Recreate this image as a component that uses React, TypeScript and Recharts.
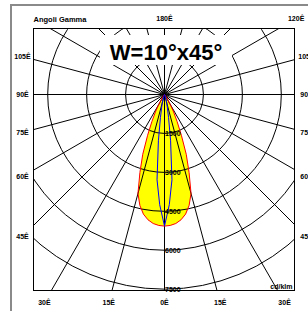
import { RadarChart, Radar, PolarGrid, PolarAngleAxis, PolarRadiusAxis } from "recharts";

const W = 308;
const H = 311;
const CX = 164.5;
const CY = 94.5;
const OUTER = 292;
const R_MAX = 11250; // cd/klm at OUTER, so 7500 sits on the bottom of the box
const START = -90; // gamma 0 points down, gamma grows clockwise
const FONT = "'Liberation Sans', Arial, sans-serif";

// one half of the (symmetric) curves, gamma in degrees
const STEP = 2.5;
const redCd = [5070, 5050, 4990, 4870, 4680, 4380, 3950, 3150, 2450, 1700, 1150, 760, 450, 260, 150, 90, 50, 25, 10];
const blueCd = [5070, 4250, 3300, 1800, 900, 500, 320, 180, 90, 40, 15];

const ringTicks = [1500, 3000, 4500, 6000, 7500];
const gridGammas = [0, 15, 30, 45, 60, 75, 90, 105, 120, 135, 150, 165, 180, 195, 210, 225, 240, 255, 270, 285, 300, 315, 330, 345];
// left side 0..105, top 180, right side 120..15
const labelGammas = [0, 15, 30, 45, 60, 75, 90, 105, 180, 240, 255, 270, 285, 300, 315, 330, 345];

const data = Array.from({ length: 360 / STEP }, (_, i) => {
  const g = i * STEP;
  const k = Math.round((g <= 180 ? g : 360 - g) / STEP);
  return { gamma: g, red: redCd[k] ?? 0, blue: blueCd[k] ?? 0 };
});

// plot box and label frame
const BOX = { x: 33, y: 28, w: 261, h: 262 };
const LBL = { side: 142, top: 76, bottom: 208 };

const angleTick = (p: any) => {
  const g = Number(p.payload?.value);
  if (!labelGammas.includes(g)) return <g />;
  const dx = p.x - CX;
  const dy = p.y - CY;
  const ts: number[] = [];
  if (Math.abs(dx) > 1e-6) ts.push(LBL.side / Math.abs(dx));
  if (dy < -1e-6) ts.push(LBL.top / -dy);
  if (dy > 1e-6) ts.push(LBL.bottom / dy);
  const t = Math.min(...ts);
  const shown = g <= 180 ? g : 360 - g;
  return (
    <text x={CX + dx * t} y={CY + dy * t + 2.5} textAnchor="middle" fontSize={7} fontWeight="bold" fontFamily={FONT} fill="#000">
      {shown}Ê
    </text>
  );
};

const ringTick = (p: any) => (
  <text x={p.x + 0.5} y={p.y + 2.5} textAnchor="start" fontSize={7} fontWeight="bold" fontFamily={FONT} fill="#000">
    {p.payload?.value}
  </text>
);

const chartProps = {
  width: W,
  height: H,
  data,
  cx: CX,
  cy: CY,
  innerRadius: 0,
  outerRadius: OUTER,
  startAngle: START,
  endAngle: START - 360,
  margin: { top: 0, right: 0, bottom: 0, left: 0 },
};

export default function App() {
  return (
    <div style={{ position: "absolute", left: 0, top: 0, width: W, height: H, background: "#fff", fontFamily: FONT }}>
      <style>{`.ldc-grid .recharts-polar-grid { clip-path: url(#ldcClip); }`}</style>
      <svg width={0} height={0} style={{ position: "absolute" }}>
        <defs>
          <clipPath id="ldcClip" clipPathUnits="userSpaceOnUse">
            <rect x={BOX.x} y={BOX.y} width={BOX.w + 1} height={BOX.h + 1} />
          </clipPath>
        </defs>
      </svg>

      {/* yellow fill under the grid */}
      <div style={{ position: "absolute", left: 0, top: 0 }}>
        <RadarChart {...chartProps}>
          <PolarAngleAxis dataKey="gamma" type="category" tick={false} axisLine={false} tickLine={false} />
          <PolarRadiusAxis type="number" domain={[0, R_MAX]} tick={false} axisLine={false} />
          <Radar dataKey="red" fill="#ffff00" fillOpacity={1} stroke="none" dot={false} isAnimationActive={false} />
        </RadarChart>
      </div>

      {/* grid, curves, labels */}
      <div className="ldc-grid" style={{ position: "absolute", left: 0, top: 0 }}>
        <RadarChart {...chartProps}>
          <PolarGrid gridType="circle" polarAngles={gridGammas.map((g) => START - g)} stroke="#000" strokeWidth={1} />
          <PolarAngleAxis dataKey="gamma" type="category" tick={angleTick} axisLine={false} tickLine={false} />
          <PolarRadiusAxis type="number" angle={-90} domain={[0, R_MAX]} ticks={ringTicks} tick={ringTick} axisLine={false} tickLine={false} />
          <Radar dataKey="red" stroke="#ff0000" strokeWidth={1} fill="none" fillOpacity={0} dot={false} isAnimationActive={false} />
          <Radar dataKey="blue" stroke="#0000ff" strokeWidth={1} fill="none" fillOpacity={0} dot={false} isAnimationActive={false} />
        </RadarChart>
      </div>

      <svg width={W} height={H} style={{ position: "absolute", left: 0, top: 0 }}>
        <rect x={10} y={4} width={W - 10} height={2} fill="#8a8a8a" />
        <rect x={10} y={4} width={2} height={H - 4} fill="#8a8a8a" />
        <rect x={BOX.x + 0.5} y={BOX.y + 0.5} width={BOX.w} height={BOX.h} fill="none" stroke="#000" strokeWidth={1} />
        <rect x={100} y={35} width={132} height={30} fill="#fff" />
        <text x={166} y={60} textAnchor="middle" fontSize={22} fontWeight="bold" fontFamily={FONT} fill="#000">
          W=10°x45°
        </text>
        <text x={33.5} y={22} fontSize={7.5} fontWeight="bold" fontFamily={FONT} fill="#000">
          Angoli Gamma
        </text>
        <text x={292.5} y={288.5} textAnchor="end" fontSize={7} fontWeight="bold" fontFamily={FONT} fill="#000">
          cd/klm
        </text>
      </svg>
    </div>
  );
}
